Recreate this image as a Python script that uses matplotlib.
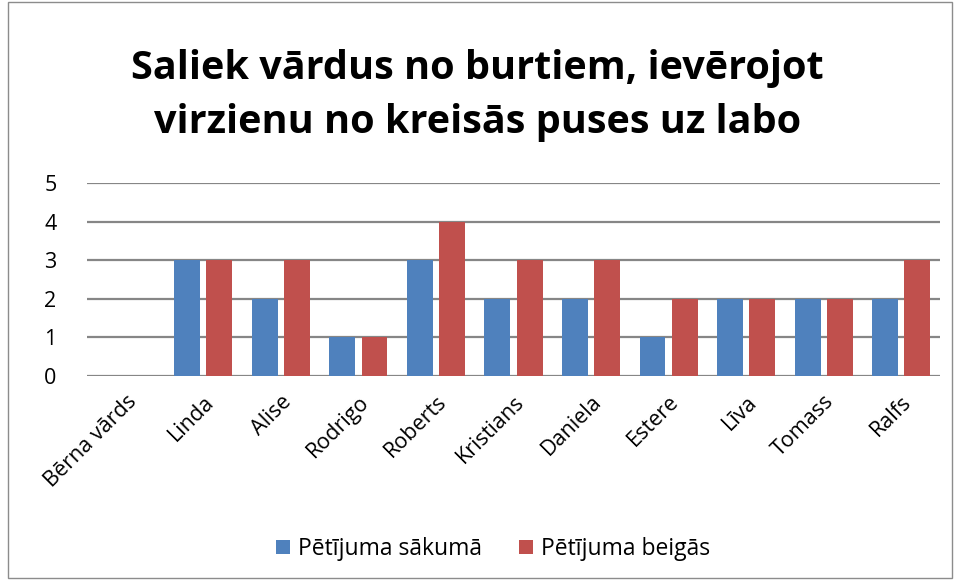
import matplotlib.pyplot as plt
import numpy as np
from matplotlib.patches import Rectangle

plt.rcParams['font.family'] = ['Open Sans', 'DejaVu Sans']

names = ["Bērna vārds", "Linda", "Alise", "Rodrigo", "Roberts", "Kristians",
         "Daniela", "Estere", "Līva", "Tomass", "Ralfs"]
sakuma = [0, 3, 2, 1, 3, 2, 2, 1, 2, 2, 2]
beigas = [0, 3, 3, 1, 4, 3, 3, 2, 2, 2, 3]
series_labels = ["Pētījuma sākumā", "Pētījuma beigās"]
colors = ["#4F81BD", "#C0504D"]

fig = plt.figure(figsize=(9.55, 5.8), dpi=100)
ax = fig.add_axes([87 / 955, 1 - 376 / 580, (940 - 87) / 955, (376 - 183) / 580])

x = np.arange(len(names))
w = 0.335
ax.bar(x - 0.04 - w / 2, sakuma, width=w, color=colors[0], label=series_labels[0], zorder=3)
ax.bar(x + 0.04 + w / 2, beigas, width=w, color=colors[1], label=series_labels[1], zorder=3)

ax.set_xlim(-0.5, len(names) - 0.5)
ax.set_ylim(0, 5)
ax.set_yticks(range(6))
ax.yaxis.grid(True, color="#868686", linewidth=1.6, zorder=0)
for s in ax.spines.values():
    s.set_visible(False)
ax.tick_params(axis='both', length=0, labelsize=15.5)
ax.tick_params(axis='y', pad=22)
ax.set_xticks(x)
ax.set_xticklabels(names, rotation=45, ha='right', rotation_mode='anchor', fontsize=15.5)
ax.tick_params(axis='x', pad=11)

fig.text(0.5, 1 - 96 / 580, "Saliek vārdus no burtiem, ievērojot\nvirzienu no kreisās puses uz labo",
         ha='center', va='center', fontsize=28.5, fontweight='bold', linespacing=1.5)

fig.legend(loc='center', bbox_to_anchor=(493 / 955, 1 - 549 / 580), ncol=2, frameon=False,
           fontsize=16.5, handlelength=0.6, handleheight=0.6, columnspacing=1.6, handletextpad=0.35)

fig.patches.append(Rectangle((8 / 955, 0.003), 944 / 955, 0.994, transform=fig.transFigure,
                             fill=False, edgecolor="#8c8c8c", linewidth=1))

fig.savefig("out.png", dpi=100)
